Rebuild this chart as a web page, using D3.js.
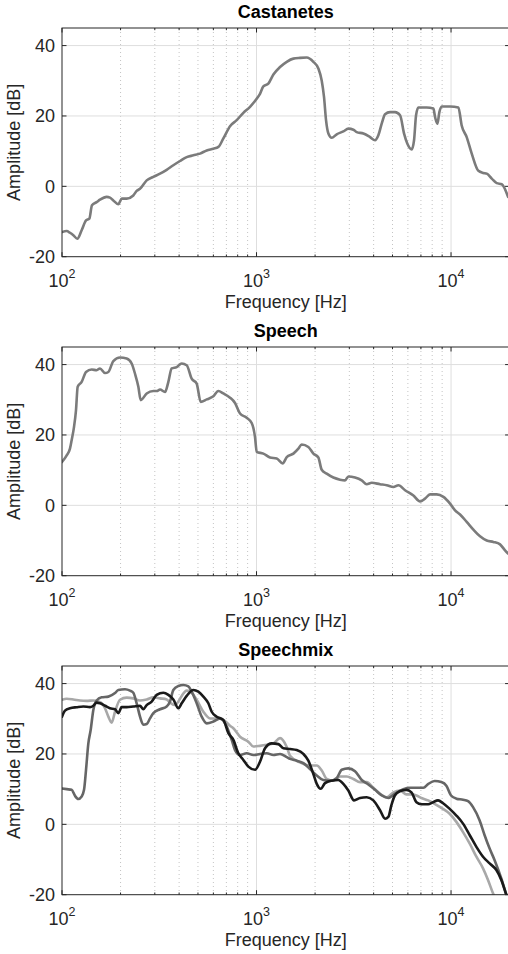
<!DOCTYPE html>
<html>
<head>
<meta charset="utf-8">
<script src="https://cdn.jsdelivr.net/npm/d3@7"></script>
<style>
  body { margin: 0; background: #fff; }
  svg { display: block; font-family: "Liberation Sans", Arial, sans-serif; }
</style>
</head>
<body>
<div id="chart"></div>
<script>
// [frequency Hz, amplitude dB]
const castanetes = [[100,-13.0],[105.7,-12.7],[109.9,-13.2],[114.4,-13.9],[119.9,-14.9],[126.2,-12.5],[132.9,-9.7],[138.2,-9.2],[142.6,-5.4],[150.7,-4.5],[156.8,-3.8],[169.7,-3.0],[176.5,-3.2],[183.6,-4.0],[194.8,-5.1],[202.7,-3.5],[215,-3.5],[232.6,-2.6],[242,-1.3],[251.8,-0.7],[272.5,1.7],[294.9,2.7],[319.1,3.6],[345.2,4.7],[373.6,6.0],[404.3,7.2],[437.5,8.3],[473.5,8.8],[512.3,9.3],[554.5,10.2],[600,10.7],[636.6,11.2],[675.2,13.6],[730.7,17.1],[790.7,18.8],[855.7,20.9],[926,22.6],[1002,24.9],[1042,26.3],[1084,28.4],[1150,29.2],[1221,31.8],[1321,33.9],[1430,35.4],[1547,36.3],[1674,36.5],[1811,36.6],[1960,35.4],[2079,33.5],[2163,30.1],[2223,25.4],[2277,18.8],[2341,15.0],[2435,13.8],[2583,14.8],[2796,15.6],[2967,16.4],[3148,16.1],[3273,15.4],[3543,15.0],[3832,14.0],[4067,13.1],[4230,14.5],[4401,17.8],[4578,20.5],[4859,21.1],[5156,21.1],[5470,20.2],[5735,15.0],[5964,12.1],[6278,10.5],[6454,13.1],[6609,20.2],[6794,22.4],[7497,22.4],[8114,22.1],[8276,19.7],[8507,17.8],[8710,21.1],[8954,22.7],[9883,22.7],[10906,22.4],[11343,17.3],[12035,14.0],[12775,9.3],[13822,4.4],[14668,3.8],[15258,3.6],[16189,2.2],[17176,0.9],[18224,0.6],[19640,-3.0]];

const speech = [[100,12.3],[105.7,14.2],[109.9,16.1],[112.1,18.5],[115.3,22.3],[118,27.0],[120.4,33.7],[126.2,35.1],[132.9,37.9],[142.1,38.6],[150.7,38.4],[156.8,38.9],[166.4,37.6],[173.1,37.9],[183.6,41.0],[198.7,42.0],[215,41.7],[228.1,40.3],[237.3,37.4],[246.9,33.7],[253.9,29.9],[272.5,31.8],[294.9,32.5],[306.7,32.5],[319.1,32.9],[338.5,32.2],[352.2,35.1],[366.3,38.9],[388.6,39.3],[412.4,40.3],[437.5,39.8],[464.2,36.0],[492.5,34.6],[516.4,29.4],[554.5,30.1],[600,31.0],[636.6,32.5],[675.2,31.8],[730.7,30.6],[775.3,29.1],[822.5,26.1],[889.9,24.9],[944.3,23.4],[982.4,19.4],[1002,15.2],[1084,14.7],[1173,13.6],[1270,13.3],[1363,11.9],[1430,13.7],[1547,14.7],[1641,16.1],[1707,17.3],[1847,16.6],[1960,14.7],[2079,13.6],[2163,10.1],[2295,9.0],[2483,7.9],[2687,7.3],[2851,7.1],[2967,8.2],[3209,7.9],[3473,7.1],[3686,6.0],[3910,6.4],[4315,6.0],[4670,5.7],[5052,5.2],[5361,5.7],[5801,4.3],[6404,2.8],[6928,1.1],[7350,1.9],[7798,3.1],[8439,3.1],[9134,2.4],[9883,0.5],[10486,-1.4],[11125,-2.6],[12035,-4.7],[13025,-6.9],[14094,-8.8],[15258,-10.0],[16505,-10.4],[17862,-11.1],[18950,-12.8],[19640,-13.7]];

const mixLight = [[100,35.4],[105.7,35.7],[114.4,35.5],[123.7,35.2],[133.9,35.1],[144.9,35.2],[153.7,34.9],[159.9,34.4],[166.4,33.0],[173.1,30.6],[180,28.9],[187.3,32.0],[198.7,35.4],[215,36.0],[232.6,35.8],[251.8,35.2],[272.5,35.5],[294.9,36.1],[319.1,35.8],[345.2,35.5],[359.2,34.6],[381.1,33.9],[396.4,34.9],[412.4,36.5],[437.5,38.0],[464.2,37.4],[492.5,35.4],[533,32.0],[576.8,30.1],[624,30.1],[675.2,29.7],[730.7,28.0],[760.2,27.3],[822.5,24.9],[907.7,23.5],[963.1,22.1],[1042,22.3],[1128,22.6],[1221,23.0],[1321,24.5],[1430,22.0],[1487,19.5],[1674,17.6],[1884,16.7],[2040,16.7],[2164,15.3],[2296,12.9],[2483,12.4],[2688,13.6],[2909,13.6],[3147,12.9],[3405,12.0],[3686,12.0],[3986,10.4],[4315,8.7],[4670,7.7],[5052,9.1],[5470,9.6],[5900,8.5],[6260,8.5],[6640,8.2],[7040,7.5],[7620,6.8],[8240,5.8],[8916,4.7],[9840,3.0],[10650,0.7],[11525,-2.2],[12480,-5.5],[13500,-9.2],[14600,-12.5],[15490,-15.8],[16430,-19.6],[17000,-21.5]];

const mixMid = [[100,10.2],[105.7,10.0],[112.1,9.8],[116.6,8.1],[121.3,7.2],[126.2,7.9],[129.8,9.8],[132.9,15.5],[136.6,23.0],[140.4,26.8],[144.9,32.5],[150.7,35.2],[159.9,36.1],[173.1,36.3],[187.3,37.3],[194.8,38.2],[210.8,38.4],[223.7,38.0],[232.6,37.4],[242,34.4],[251.8,30.6],[261.9,28.3],[272.5,28.5],[283.4,30.1],[294.9,31.6],[319.1,32.7],[345.2,33.5],[359.2,34.9],[373.6,38.2],[396.4,39.3],[420.6,39.6],[446.2,39.2],[464.2,37.7],[492.5,34.4],[522.5,30.6],[554.5,28.7],[600,29.2],[649.1,30.1],[702.5,27.8],[745.3,24.0],[775.3,21.1],[822.5,19.7],[889.9,20.2],[963.1,19.7],[1042,20.0],[1128,20.2],[1221,19.7],[1321,20.0],[1430,19.1],[1487,18.6],[1609,18.1],[1741,17.4],[1884,15.7],[2040,13.9],[2205,12.6],[2387,12.4],[2584,13.2],[2742,15.5],[2965,15.9],[3209,15.1],[3474,12.6],[3757,11.3],[4067,9.8],[4402,8.2],[4760,7.5],[5152,8.7],[5685,10.0],[6155,10.4],[6659,10.4],[7207,10.4],[7645,11.5],[8240,12.3],[8916,12.0],[9460,11.0],[10000,8.2],[10650,7.3],[11525,7.0],[12225,6.6],[12975,4.9],[14030,1.1],[14880,-3.1],[15790,-6.9],[16750,-10.2],[18130,-15.4],[19240,-19.9],[19700,-21.5]];

const mixDark = [[100,30.6],[103.6,32.3],[109.9,33.0],[119,33.3],[128.7,33.5],[139.3,33.3],[144.9,33.7],[150.7,34.6],[156.8,34.4],[166.4,33.7],[176.5,33.0],[187.3,32.7],[194.8,31.6],[202.7,33.3],[215,33.3],[232.6,33.5],[251.8,33.7],[261.9,32.7],[272.5,33.9],[289.1,34.9],[306.7,36.8],[331.9,37.4],[352.2,36.8],[373.6,35.5],[396.4,33.0],[412.4,34.4],[437.5,36.5],[473.5,38.2],[502.1,37.7],[533,36.3],[565.5,34.4],[588.3,32.0],[624,30.6],[675.2,29.7],[716.6,25.9],[760.2,24.0],[806.3,20.2],[855.7,18.3],[907.7,16.4],[982.4,15.5],[1042,17.8],[1106,21.6],[1197,23.0],[1295,22.8],[1374,21.6],[1487,21.4],[1609,21.1],[1741,20.0],[1847,18.1],[1960,14.3],[2040,11.5],[2138,10.1],[2250,11.7],[2436,12.4],[2634,12.6],[2795,11.5],[2965,9.6],[3172,6.8],[3405,7.5],[3686,7.7],[3986,6.8],[4315,4.0],[4579,1.6],[4760,2.1],[4940,5.5],[5140,8.2],[5450,9.4],[5895,9.8],[6260,9.1],[6640,6.3],[7040,5.7],[7620,5.7],[8080,6.3],[8570,6.8],[9100,6.0],[9840,4.4],[10650,2.5],[11525,0.2],[12480,-3.1],[13500,-6.4],[14600,-9.2],[15790,-11.1],[17100,-13.0],[18130,-15.8],[19240,-20.1],[19700,-22.0]];

const titles = ["Castanetes", "Speech", "Speechmix"];
const xMajor = [100, 1000, 10000];
const xExp = ["2", "3", "4"];
const yTicks = [-20, 0, 20, 40];

const panels = [
    {title: titles[0], lines: [{data: castanetes, color: "#7b7b7b"}]},
    {title: titles[1], lines: [{data: speech, color: "#7b7b7b"}]},
    {title: titles[2], lines: [
        {data: mixLight, color: "#a8a8a8"},
        {data: mixMid, color: "#666666"},
        {data: mixDark, color: "#1a1a1a"}
    ]}
];

const width = 508, height = 954;
const left = 62, right = 509.6;
const plotH = 228.7;
const tops = [28, 347, 666];
const axisColor = "#262626";

const svg = d3.select("#chart").append("svg")
    .attr("width", width)
    .attr("height", height);

const x = d3.scaleLog().domain([100, 20000]).range([left, right]);
const y = d3.scaleLinear().domain([-20, 45]).range([plotH, 0]);
const minor = x.ticks().filter(v => !xMajor.includes(v) && v < 20000);

const line = d3.line()
    .curve(d3.curveMonotoneX)
    .x(d => x(d[0]))
    .y(d => y(d[1]));

const defs = svg.append("defs");

panels.forEach((p, i) => {
    defs.append("clipPath").attr("id", "clip" + i)
      .append("rect")
        .attr("x", left).attr("y", 0)
        .attr("width", right - left).attr("height", plotH);

    const g = svg.append("g").attr("transform", `translate(0,${tops[i]})`);

    // minor grid (dotted)
    g.append("g").selectAll("line")
      .data(minor)
      .join("line")
        .attr("x1", d => x(d)).attr("x2", d => x(d))
        .attr("y1", 0).attr("y2", plotH)
        .attr("stroke", "#c4c4c4")
        .attr("stroke-width", 1)
        .attr("stroke-dasharray", "1,3");

    // major grid
    g.append("g").selectAll("line")
      .data(xMajor.slice(1))
      .join("line")
        .attr("x1", d => x(d)).attr("x2", d => x(d))
        .attr("y1", 0).attr("y2", plotH)
        .attr("stroke", "#dedede");
    g.append("g").selectAll("line")
      .data(yTicks.slice(1))
      .join("line")
        .attr("x1", left).attr("x2", right)
        .attr("y1", d => y(d)).attr("y2", d => y(d))
        .attr("stroke", "#dedede");

    // curves
    g.append("g")
        .attr("clip-path", `url(#clip${i})`)
      .selectAll("path")
      .data(p.lines)
      .join("path")
        .attr("fill", "none")
        .attr("stroke", d => d.color)
        .attr("stroke-width", 2.6)
        .attr("stroke-linejoin", "round")
        .attr("stroke-linecap", "round")
        .attr("d", d => line(d.data));

    // box
    g.append("rect")
        .attr("x", left).attr("y", 0)
        .attr("width", right - left).attr("height", plotH)
        .attr("fill", "none")
        .attr("stroke", axisColor)
        .attr("stroke-width", 1);

    // inward ticks, bottom and top
    [0, plotH].forEach(edge => {
        const dir = edge === 0 ? 1 : -1;
        g.append("g").selectAll("line")
          .data(minor)
          .join("line")
            .attr("x1", d => x(d)).attr("x2", d => x(d))
            .attr("y1", edge).attr("y2", edge + dir * 2.2)
            .attr("stroke", axisColor);
        g.append("g").selectAll("line")
          .data(xMajor)
          .join("line")
            .attr("x1", d => x(d)).attr("x2", d => x(d))
            .attr("y1", edge).attr("y2", edge + dir * 4.5)
            .attr("stroke", axisColor);
    });
    // inward ticks, left and right
    [left, right].forEach(edge => {
        const dir = edge === left ? 1 : -1;
        g.append("g").selectAll("line")
          .data(yTicks)
          .join("line")
            .attr("x1", edge).attr("x2", edge + dir * 4.5)
            .attr("y1", d => y(d)).attr("y2", d => y(d))
            .attr("stroke", axisColor);
    });

    // y tick labels
    g.append("g").selectAll("text")
      .data(yTicks)
      .join("text")
        .attr("x", 55)
        .attr("y", d => y(d))
        .attr("dy", "0.35em")
        .attr("text-anchor", "end")
        .attr("font-size", 18)
        .attr("fill", axisColor)
        .text(d => d);

    // x tick labels 10^n
    const xl = g.append("g").selectAll("text")
      .data(xMajor)
      .join("text")
        .attr("x", d => x(d))
        .attr("y", plotH + 30)
        .attr("text-anchor", "middle")
        .attr("font-size", 18)
        .attr("fill", axisColor);
    xl.append("tspan").text("10");
    xl.append("tspan")
        .attr("dy", -9)
        .attr("font-size", 12.5)
        .text((d, j) => xExp[j]);

    // axis labels
    g.append("text")
        .attr("x", (left + right) / 2)
        .attr("y", plotH + 51)
        .attr("text-anchor", "middle")
        .attr("font-size", 18)
        .attr("fill", axisColor)
        .text("Frequency [Hz]");
    g.append("text")
        .attr("transform", `translate(20,${plotH / 2}) rotate(-90)`)
        .attr("text-anchor", "middle")
        .attr("font-size", 18)
        .attr("fill", axisColor)
        .text("Amplitude [dB]");

    // title
    g.append("text")
        .attr("x", (left + right) / 2)
        .attr("y", -10)
        .attr("text-anchor", "middle")
        .attr("font-size", 18)
        .attr("font-weight", "bold")
        .attr("fill", "#000")
        .text(p.title);
});
</script>
</body>
</html>
